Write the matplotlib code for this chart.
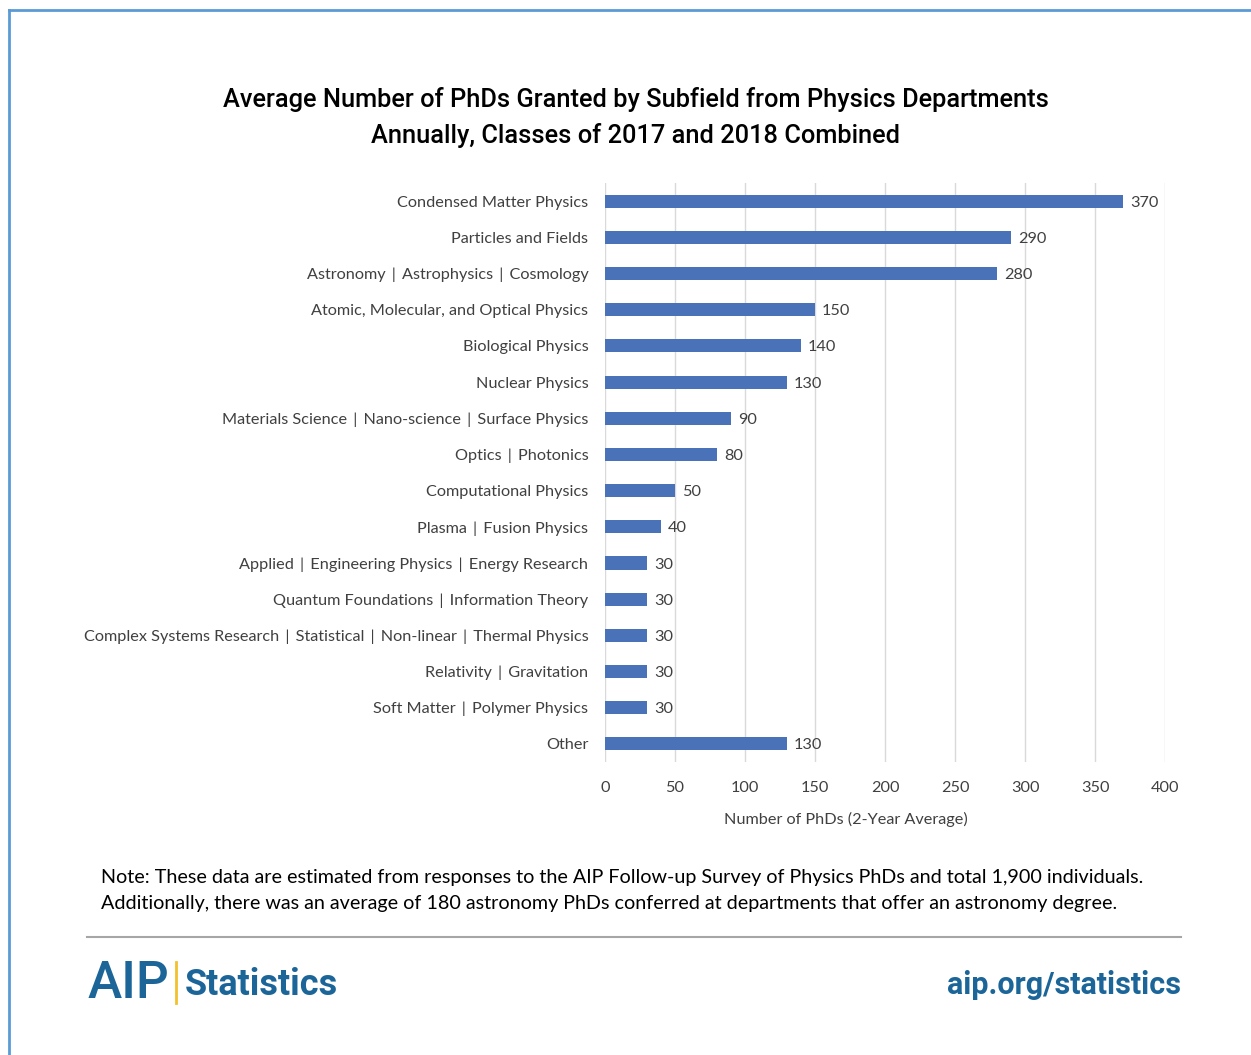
import matplotlib.pyplot as plt
from matplotlib.lines import Line2D

# Data
subfields = [
    'Condensed Matter Physics',
    'Particles and Fields',
    'Astronomy | Astrophysics | Cosmology',
    'Atomic, Molecular, and Optical Physics',
    'Biological Physics',
    'Nuclear Physics',
    'Materials Science | Nano-science | Surface Physics',
    'Optics | Photonics',
    'Computational Physics',
    'Plasma | Fusion Physics',
    'Applied | Engineering Physics | Energy Research',
    'Quantum Foundations | Information Theory',
    'Complex Systems Research | Statistical | Non-linear | Thermal Physics',
    'Relativity | Gravitation',
    'Soft Matter | Polymer Physics',
    'Other',
]
phds = [370, 290, 280, 150, 140, 130, 90, 80, 50, 40, 30, 30, 30, 30, 30, 130]
x_ticks = [0, 50, 100, 150, 200, 250, 300, 350, 400]

bar_color = '#4A72B8'
text_color = '#404040'
aip_blue = '#1B6599'

plt.rcParams['font.family'] = ['Lato', 'DejaVu Sans']

fig = plt.figure(figsize=(12.51, 10.55), dpi=100)
ax = fig.add_axes([0.4836, 0.2777, 0.4477, 0.5488])

pos = list(range(len(subfields)))
ax.barh(pos, phds, height=0.36, color=bar_color, zorder=3)
for p, v in zip(pos, phds):
    ax.text(v + 5, p, str(v), va='center_baseline', ha='left', fontsize=11.7, color=text_color)

# a bit more room around the separators, as in the original
shown = [s.replace(' | ', '\u2009 | \u2009') for s in subfields]

ax.set_ylim(len(subfields) - 0.5, -0.5)
ax.set_xlim(0, 400)
ax.set_yticks(pos)
ax.set_yticklabels(shown, fontsize=11.7, color=text_color)
ax.set_xticks(x_ticks)
ax.set_xticklabels([str(t) for t in x_ticks], fontsize=11.7, color=text_color)
ax.tick_params(axis='both', length=0)
ax.tick_params(axis='y', pad=12)
ax.tick_params(axis='x', pad=14)
ax.grid(axis='x', color='#D9D9D9', linewidth=1, zorder=0)
for s in ax.spines.values():
    s.set_visible(False)
ax.set_xlabel('Number of PhDs (2-Year Average)', fontsize=11.7, color=text_color)
ax.xaxis.set_label_coords((846 - 605) / 560, -0.086)

# Title
fig.text(0.508, 0.8885, 'Average Number of PhDs Granted by Subfield from Physics Departments\n'
         'Annually, Classes of 2017 and 2018 Combined',
         ha='center', va='center', fontsize=18.3, color='black', fontweight='medium',
         linespacing=1.55, family=['Roboto', 'DejaVu Sans'])

# Note
fig.text(0.081, 0.156,
         'Note: These data are estimated from responses to the AIP Follow-up Survey of Physics PhDs and total 1,900 individuals.\n'
         'Additionally, there was an average of 180 astronomy PhDs conferred at departments that offer an astronomy degree.',
         ha='left', va='center', fontsize=14.2, color='black', linespacing=1.6)

# Separator line
fig.add_artist(Line2D([87 / 1251, 1181 / 1251], [1 - 937 / 1055] * 2, color='#A6A6A6', linewidth=1.5))

# Footer logo and link
fig.text(0.070, 0.067, 'AIP', ha='left', va='center', fontsize=37, color=aip_blue,
         fontweight='medium', family=['Roboto', 'DejaVu Sans'])
fig.add_artist(Line2D([176 / 1251, 176 / 1251], [1 - 962 / 1055, 1 - 1003 / 1055], color='#F2C12E', linewidth=2))
fig.text(0.148, 0.066, 'Statistics', ha='left', va='center', fontsize=26, color=aip_blue,
         fontweight='bold', family=['Roboto', 'DejaVu Sans'])
fig.text(0.944, 0.066, 'aip.org/statistics', ha='right', va='center', fontsize=22, color=aip_blue,
         fontweight='bold', family=['Roboto', 'DejaVu Sans'])

# Border (top and left)
border = '#5B9BD5'
fig.add_artist(Line2D([9 / 1251, 1.0], [1 - 10 / 1055] * 2, color=border, linewidth=2))
fig.add_artist(Line2D([9 / 1251] * 2, [0, 1 - 10 / 1055], color=border, linewidth=2))

fig.savefig('out.png', dpi=100, facecolor='white')
